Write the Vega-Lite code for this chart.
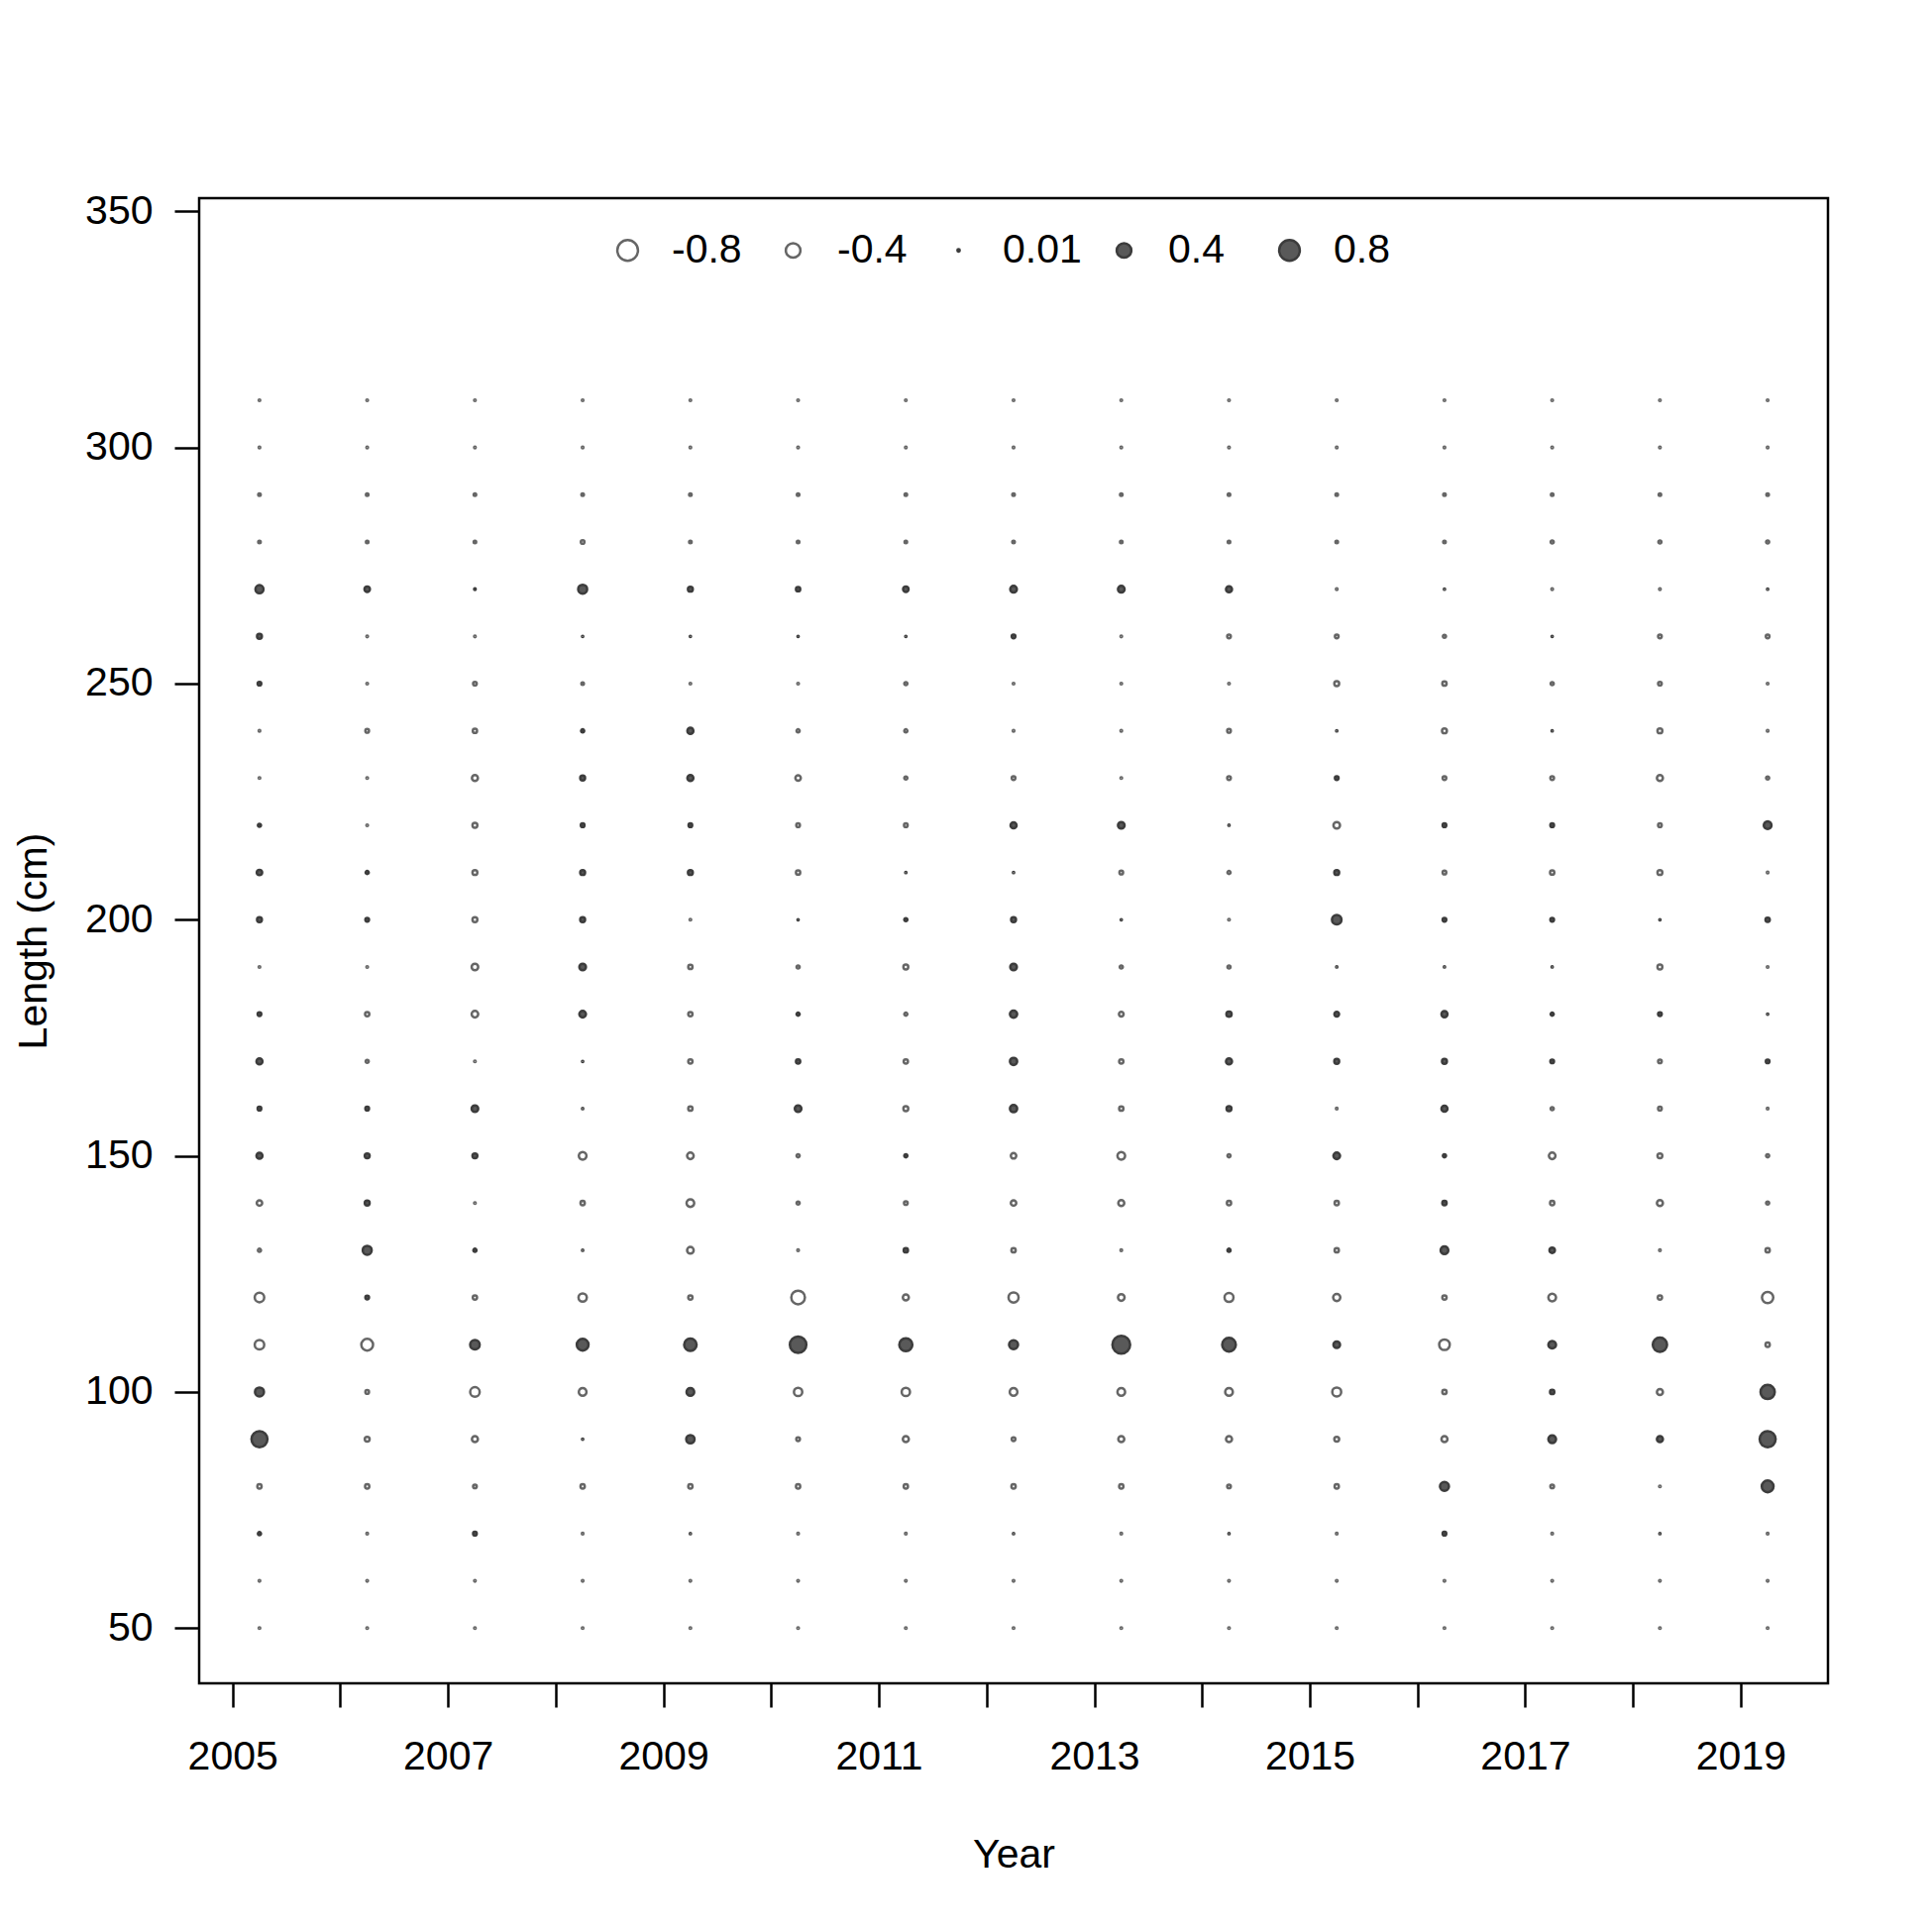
{
  "$schema": "https://vega.github.io/schema/vega-lite/v6.json",
  "width": 1644,
  "height": 1499,
  "autosize": {"type": "none"},
  "padding": {"left": 201, "top": 200, "right": 105, "bottom": 251},
  "background": "white",
  "config": {
    "view": {"stroke": "black", "strokeWidth": 2.5},
    "font": "Liberation Sans",
    "axis": {"labelFont": "Liberation Sans", "titleFont": "Liberation Sans", "labelFontSize": 41, "titleFontSize": 41, "labelColor": "black", "titleColor": "black", "titleFontWeight": "normal", "tickColor": "black", "tickWidth": 2.5, "domain": false, "grid": false, "labelFlush": false, "labelOverlap": false},
    "legend": {"labelFont": "Liberation Sans", "labelFontSize": 41, "labelColor": "black"}
  },
  "data": {"values": [
{"year":2005.25,"length":310,"resid":-0.005},{"year":2005.25,"length":300,"resid":-0.005},{"year":2005.25,"length":290,"resid":-0.012},{"year":2005.25,"length":280,"resid":-0.012},{"year":2005.25,"length":270,"resid":0.12},{"year":2005.25,"length":260,"resid":0.044},{"year":2005.25,"length":250,"resid":0.025},{"year":2005.25,"length":240,"resid":-0.005},{"year":2005.25,"length":230,"resid":-0.005},{"year":2005.25,"length":220,"resid":0.018},{"year":2005.25,"length":210,"resid":0.055},{"year":2005.25,"length":200,"resid":0.044},{"year":2005.25,"length":190,"resid":-0.005},{"year":2005.25,"length":180,"resid":0.025},{"year":2005.25,"length":170,"resid":0.067},{"year":2005.25,"length":160,"resid":0.025},{"year":2005.25,"length":150,"resid":0.067},{"year":2005.25,"length":140,"resid":-0.055},{"year":2005.25,"length":130,"resid":-0.018},{"year":2005.25,"length":120,"resid":-0.17},{"year":2005.25,"length":110,"resid":-0.17},{"year":2005.25,"length":100,"resid":0.15},{"year":2005.25,"length":90,"resid":0.48},{"year":2005.25,"length":80,"resid":-0.034},{"year":2005.25,"length":70,"resid":0.018},{"year":2005.25,"length":60,"resid":-0.005},{"year":2005.25,"length":50,"resid":-0.005},
{"year":2006.25,"length":310,"resid":-0.005},{"year":2006.25,"length":300,"resid":-0.005},{"year":2006.25,"length":290,"resid":-0.012},{"year":2006.25,"length":280,"resid":-0.012},{"year":2006.25,"length":270,"resid":0.055},{"year":2006.25,"length":260,"resid":-0.005},{"year":2006.25,"length":250,"resid":-0.005},{"year":2006.25,"length":240,"resid":-0.025},{"year":2006.25,"length":230,"resid":-0.005},{"year":2006.25,"length":220,"resid":-0.005},{"year":2006.25,"length":210,"resid":0.018},{"year":2006.25,"length":200,"resid":0.025},{"year":2006.25,"length":190,"resid":-0.005},{"year":2006.25,"length":180,"resid":-0.034},{"year":2006.25,"length":170,"resid":-0.018},{"year":2006.25,"length":160,"resid":0.025},{"year":2006.25,"length":150,"resid":0.044},{"year":2006.25,"length":140,"resid":0.044},{"year":2006.25,"length":130,"resid":0.15},{"year":2006.25,"length":120,"resid":0.025},{"year":2006.25,"length":110,"resid":-0.26},{"year":2006.25,"length":100,"resid":-0.025},{"year":2006.25,"length":90,"resid":-0.044},{"year":2006.25,"length":80,"resid":-0.034},{"year":2006.25,"length":70,"resid":-0.005},{"year":2006.25,"length":60,"resid":-0.005},{"year":2006.25,"length":50,"resid":-0.005},
{"year":2007.25,"length":310,"resid":-0.005},{"year":2007.25,"length":300,"resid":-0.005},{"year":2007.25,"length":290,"resid":-0.012},{"year":2007.25,"length":280,"resid":-0.012},{"year":2007.25,"length":270,"resid":0.005},{"year":2007.25,"length":260,"resid":-0.005},{"year":2007.25,"length":250,"resid":-0.025},{"year":2007.25,"length":240,"resid":-0.034},{"year":2007.25,"length":230,"resid":-0.067},{"year":2007.25,"length":220,"resid":-0.044},{"year":2007.25,"length":210,"resid":-0.044},{"year":2007.25,"length":200,"resid":-0.044},{"year":2007.25,"length":190,"resid":-0.081},{"year":2007.25,"length":180,"resid":-0.081},{"year":2007.25,"length":170,"resid":-0.005},{"year":2007.25,"length":160,"resid":0.081},{"year":2007.25,"length":150,"resid":0.044},{"year":2007.25,"length":140,"resid":-0.005},{"year":2007.25,"length":130,"resid":0.018},{"year":2007.25,"length":120,"resid":-0.034},{"year":2007.25,"length":110,"resid":0.17},{"year":2007.25,"length":100,"resid":-0.17},{"year":2007.25,"length":90,"resid":-0.067},{"year":2007.25,"length":80,"resid":-0.025},{"year":2007.25,"length":70,"resid":0.025},{"year":2007.25,"length":60,"resid":-0.005},{"year":2007.25,"length":50,"resid":-0.005},
{"year":2008.25,"length":310,"resid":-0.005},{"year":2008.25,"length":300,"resid":-0.005},{"year":2008.25,"length":290,"resid":-0.012},{"year":2008.25,"length":280,"resid":-0.025},{"year":2008.25,"length":270,"resid":0.15},{"year":2008.25,"length":260,"resid":0.003},{"year":2008.25,"length":250,"resid":-0.012},{"year":2008.25,"length":240,"resid":0.018},{"year":2008.25,"length":230,"resid":0.044},{"year":2008.25,"length":220,"resid":0.025},{"year":2008.25,"length":210,"resid":0.044},{"year":2008.25,"length":200,"resid":0.044},{"year":2008.25,"length":190,"resid":0.081},{"year":2008.25,"length":180,"resid":0.081},{"year":2008.25,"length":170,"resid":0.003},{"year":2008.25,"length":160,"resid":0.003},{"year":2008.25,"length":150,"resid":-0.11},{"year":2008.25,"length":140,"resid":-0.034},{"year":2008.25,"length":130,"resid":0.003},{"year":2008.25,"length":120,"resid":-0.13},{"year":2008.25,"length":110,"resid":0.26},{"year":2008.25,"length":100,"resid":-0.11},{"year":2008.25,"length":90,"resid":0.003},{"year":2008.25,"length":80,"resid":-0.034},{"year":2008.25,"length":70,"resid":-0.005},{"year":2008.25,"length":60,"resid":-0.005},{"year":2008.25,"length":50,"resid":-0.005},
{"year":2009.25,"length":310,"resid":-0.005},{"year":2009.25,"length":300,"resid":-0.005},{"year":2009.25,"length":290,"resid":-0.012},{"year":2009.25,"length":280,"resid":-0.012},{"year":2009.25,"length":270,"resid":0.044},{"year":2009.25,"length":260,"resid":0.003},{"year":2009.25,"length":250,"resid":-0.005},{"year":2009.25,"length":240,"resid":0.067},{"year":2009.25,"length":230,"resid":0.067},{"year":2009.25,"length":220,"resid":0.025},{"year":2009.25,"length":210,"resid":0.044},{"year":2009.25,"length":200,"resid":-0.005},{"year":2009.25,"length":190,"resid":-0.034},{"year":2009.25,"length":180,"resid":-0.034},{"year":2009.25,"length":170,"resid":-0.034},{"year":2009.25,"length":160,"resid":-0.034},{"year":2009.25,"length":150,"resid":-0.081},{"year":2009.25,"length":140,"resid":-0.11},{"year":2009.25,"length":130,"resid":-0.081},{"year":2009.25,"length":120,"resid":-0.034},{"year":2009.25,"length":110,"resid":0.29},{"year":2009.25,"length":100,"resid":0.11},{"year":2009.25,"length":90,"resid":0.13},{"year":2009.25,"length":80,"resid":-0.034},{"year":2009.25,"length":70,"resid":0.003},{"year":2009.25,"length":60,"resid":-0.005},{"year":2009.25,"length":50,"resid":-0.005},
{"year":2010.25,"length":310,"resid":-0.005},{"year":2010.25,"length":300,"resid":-0.005},{"year":2010.25,"length":290,"resid":-0.012},{"year":2010.25,"length":280,"resid":-0.012},{"year":2010.25,"length":270,"resid":0.034},{"year":2010.25,"length":260,"resid":0.003},{"year":2010.25,"length":250,"resid":-0.005},{"year":2010.25,"length":240,"resid":-0.018},{"year":2010.25,"length":230,"resid":-0.055},{"year":2010.25,"length":220,"resid":-0.025},{"year":2010.25,"length":210,"resid":-0.034},{"year":2010.25,"length":200,"resid":0.003},{"year":2010.25,"length":190,"resid":-0.018},{"year":2010.25,"length":180,"resid":0.018},{"year":2010.25,"length":170,"resid":0.034},{"year":2010.25,"length":160,"resid":0.081},{"year":2010.25,"length":150,"resid":-0.018},{"year":2010.25,"length":140,"resid":-0.018},{"year":2010.25,"length":130,"resid":-0.005},{"year":2010.25,"length":120,"resid":-0.35},{"year":2010.25,"length":110,"resid":0.51},{"year":2010.25,"length":100,"resid":-0.13},{"year":2010.25,"length":90,"resid":-0.025},{"year":2010.25,"length":80,"resid":-0.034},{"year":2010.25,"length":70,"resid":-0.005},{"year":2010.25,"length":60,"resid":-0.005},{"year":2010.25,"length":50,"resid":-0.005},
{"year":2011.25,"length":310,"resid":-0.005},{"year":2011.25,"length":300,"resid":-0.005},{"year":2011.25,"length":290,"resid":-0.012},{"year":2011.25,"length":280,"resid":-0.012},{"year":2011.25,"length":270,"resid":0.055},{"year":2011.25,"length":260,"resid":0.003},{"year":2011.25,"length":250,"resid":-0.018},{"year":2011.25,"length":240,"resid":-0.018},{"year":2011.25,"length":230,"resid":-0.018},{"year":2011.25,"length":220,"resid":-0.025},{"year":2011.25,"length":210,"resid":0.003},{"year":2011.25,"length":200,"resid":0.018},{"year":2011.25,"length":190,"resid":-0.044},{"year":2011.25,"length":180,"resid":-0.018},{"year":2011.25,"length":170,"resid":-0.034},{"year":2011.25,"length":160,"resid":-0.044},{"year":2011.25,"length":150,"resid":0.018},{"year":2011.25,"length":140,"resid":-0.025},{"year":2011.25,"length":130,"resid":0.034},{"year":2011.25,"length":120,"resid":-0.067},{"year":2011.25,"length":110,"resid":0.32},{"year":2011.25,"length":100,"resid":-0.13},{"year":2011.25,"length":90,"resid":-0.067},{"year":2011.25,"length":80,"resid":-0.034},{"year":2011.25,"length":70,"resid":-0.005},{"year":2011.25,"length":60,"resid":-0.005},{"year":2011.25,"length":50,"resid":-0.005},
{"year":2012.25,"length":310,"resid":-0.005},{"year":2012.25,"length":300,"resid":-0.005},{"year":2012.25,"length":290,"resid":-0.012},{"year":2012.25,"length":280,"resid":-0.012},{"year":2012.25,"length":270,"resid":0.081},{"year":2012.25,"length":260,"resid":0.025},{"year":2012.25,"length":250,"resid":-0.005},{"year":2012.25,"length":240,"resid":-0.005},{"year":2012.25,"length":230,"resid":-0.025},{"year":2012.25,"length":220,"resid":0.067},{"year":2012.25,"length":210,"resid":0.003},{"year":2012.25,"length":200,"resid":0.044},{"year":2012.25,"length":190,"resid":0.081},{"year":2012.25,"length":180,"resid":0.097},{"year":2012.25,"length":170,"resid":0.097},{"year":2012.25,"length":160,"resid":0.097},{"year":2012.25,"length":150,"resid":-0.055},{"year":2012.25,"length":140,"resid":-0.055},{"year":2012.25,"length":130,"resid":-0.034},{"year":2012.25,"length":120,"resid":-0.19},{"year":2012.25,"length":110,"resid":0.15},{"year":2012.25,"length":100,"resid":-0.11},{"year":2012.25,"length":90,"resid":-0.025},{"year":2012.25,"length":80,"resid":-0.034},{"year":2012.25,"length":70,"resid":0.003},{"year":2012.25,"length":60,"resid":-0.005},{"year":2012.25,"length":50,"resid":-0.005},
{"year":2013.25,"length":310,"resid":-0.005},{"year":2013.25,"length":300,"resid":-0.005},{"year":2013.25,"length":290,"resid":-0.012},{"year":2013.25,"length":280,"resid":-0.012},{"year":2013.25,"length":270,"resid":0.081},{"year":2013.25,"length":260,"resid":-0.005},{"year":2013.25,"length":250,"resid":-0.005},{"year":2013.25,"length":240,"resid":-0.005},{"year":2013.25,"length":230,"resid":-0.005},{"year":2013.25,"length":220,"resid":0.081},{"year":2013.25,"length":210,"resid":-0.025},{"year":2013.25,"length":200,"resid":0.003},{"year":2013.25,"length":190,"resid":-0.018},{"year":2013.25,"length":180,"resid":-0.04},{"year":2013.25,"length":170,"resid":-0.034},{"year":2013.25,"length":160,"resid":-0.034},{"year":2013.25,"length":150,"resid":-0.11},{"year":2013.25,"length":140,"resid":-0.067},{"year":2013.25,"length":130,"resid":-0.005},{"year":2013.25,"length":120,"resid":-0.081},{"year":2013.25,"length":110,"resid":0.59},{"year":2013.25,"length":100,"resid":-0.11},{"year":2013.25,"length":90,"resid":-0.067},{"year":2013.25,"length":80,"resid":-0.034},{"year":2013.25,"length":70,"resid":-0.005},{"year":2013.25,"length":60,"resid":-0.005},{"year":2013.25,"length":50,"resid":-0.005},
{"year":2014.25,"length":310,"resid":-0.005},{"year":2014.25,"length":300,"resid":-0.005},{"year":2014.25,"length":290,"resid":-0.012},{"year":2014.25,"length":280,"resid":-0.012},{"year":2014.25,"length":270,"resid":0.067},{"year":2014.25,"length":260,"resid":-0.025},{"year":2014.25,"length":250,"resid":-0.005},{"year":2014.25,"length":240,"resid":-0.025},{"year":2014.25,"length":230,"resid":-0.025},{"year":2014.25,"length":220,"resid":0.003},{"year":2014.25,"length":210,"resid":-0.018},{"year":2014.25,"length":200,"resid":-0.005},{"year":2014.25,"length":190,"resid":-0.018},{"year":2014.25,"length":180,"resid":0.05},{"year":2014.25,"length":170,"resid":0.067},{"year":2014.25,"length":160,"resid":0.044},{"year":2014.25,"length":150,"resid":-0.018},{"year":2014.25,"length":140,"resid":-0.034},{"year":2014.25,"length":130,"resid":0.018},{"year":2014.25,"length":120,"resid":-0.15},{"year":2014.25,"length":110,"resid":0.35},{"year":2014.25,"length":100,"resid":-0.11},{"year":2014.25,"length":90,"resid":-0.067},{"year":2014.25,"length":80,"resid":-0.025},{"year":2014.25,"length":70,"resid":0.003},{"year":2014.25,"length":60,"resid":-0.005},{"year":2014.25,"length":50,"resid":-0.005},
{"year":2015.25,"length":310,"resid":-0.005},{"year":2015.25,"length":300,"resid":-0.005},{"year":2015.25,"length":290,"resid":-0.012},{"year":2015.25,"length":280,"resid":-0.012},{"year":2015.25,"length":270,"resid":-0.005},{"year":2015.25,"length":260,"resid":-0.025},{"year":2015.25,"length":250,"resid":-0.044},{"year":2015.25,"length":240,"resid":0.003},{"year":2015.25,"length":230,"resid":0.025},{"year":2015.25,"length":220,"resid":-0.081},{"year":2015.25,"length":210,"resid":0.044},{"year":2015.25,"length":200,"resid":0.17},{"year":2015.25,"length":190,"resid":0.003},{"year":2015.25,"length":180,"resid":0.04},{"year":2015.25,"length":170,"resid":0.044},{"year":2015.25,"length":160,"resid":-0.005},{"year":2015.25,"length":150,"resid":0.081},{"year":2015.25,"length":140,"resid":-0.034},{"year":2015.25,"length":130,"resid":-0.034},{"year":2015.25,"length":120,"resid":-0.097},{"year":2015.25,"length":110,"resid":0.081},{"year":2015.25,"length":100,"resid":-0.15},{"year":2015.25,"length":90,"resid":-0.044},{"year":2015.25,"length":80,"resid":-0.034},{"year":2015.25,"length":70,"resid":-0.005},{"year":2015.25,"length":60,"resid":-0.005},{"year":2015.25,"length":50,"resid":-0.005},
{"year":2016.25,"length":310,"resid":-0.005},{"year":2016.25,"length":300,"resid":-0.005},{"year":2016.25,"length":290,"resid":-0.012},{"year":2016.25,"length":280,"resid":-0.012},{"year":2016.25,"length":270,"resid":0.003},{"year":2016.25,"length":260,"resid":-0.018},{"year":2016.25,"length":250,"resid":-0.034},{"year":2016.25,"length":240,"resid":-0.044},{"year":2016.25,"length":230,"resid":-0.025},{"year":2016.25,"length":220,"resid":0.025},{"year":2016.25,"length":210,"resid":-0.025},{"year":2016.25,"length":200,"resid":0.025},{"year":2016.25,"length":190,"resid":0.003},{"year":2016.25,"length":180,"resid":0.067},{"year":2016.25,"length":170,"resid":0.044},{"year":2016.25,"length":160,"resid":0.067},{"year":2016.25,"length":150,"resid":0.018},{"year":2016.25,"length":140,"resid":0.034},{"year":2016.25,"length":130,"resid":0.11},{"year":2016.25,"length":120,"resid":-0.034},{"year":2016.25,"length":110,"resid":-0.21},{"year":2016.25,"length":100,"resid":-0.034},{"year":2016.25,"length":90,"resid":-0.067},{"year":2016.25,"length":80,"resid":0.15},{"year":2016.25,"length":70,"resid":0.025},{"year":2016.25,"length":60,"resid":-0.005},{"year":2016.25,"length":50,"resid":-0.005},
{"year":2017.25,"length":310,"resid":-0.005},{"year":2017.25,"length":300,"resid":-0.005},{"year":2017.25,"length":290,"resid":-0.012},{"year":2017.25,"length":280,"resid":-0.018},{"year":2017.25,"length":270,"resid":-0.005},{"year":2017.25,"length":260,"resid":0.003},{"year":2017.25,"length":250,"resid":-0.018},{"year":2017.25,"length":240,"resid":0.003},{"year":2017.25,"length":230,"resid":-0.025},{"year":2017.25,"length":220,"resid":0.025},{"year":2017.25,"length":210,"resid":-0.034},{"year":2017.25,"length":200,"resid":0.025},{"year":2017.25,"length":190,"resid":0.003},{"year":2017.25,"length":180,"resid":0.018},{"year":2017.25,"length":170,"resid":0.025},{"year":2017.25,"length":160,"resid":-0.018},{"year":2017.25,"length":150,"resid":-0.081},{"year":2017.25,"length":140,"resid":-0.034},{"year":2017.25,"length":130,"resid":0.055},{"year":2017.25,"length":120,"resid":-0.11},{"year":2017.25,"length":110,"resid":0.11},{"year":2017.25,"length":100,"resid":0.034},{"year":2017.25,"length":90,"resid":0.11},{"year":2017.25,"length":80,"resid":-0.025},{"year":2017.25,"length":70,"resid":-0.005},{"year":2017.25,"length":60,"resid":-0.005},{"year":2017.25,"length":50,"resid":-0.005},
{"year":2018.25,"length":310,"resid":-0.005},{"year":2018.25,"length":300,"resid":-0.005},{"year":2018.25,"length":290,"resid":-0.012},{"year":2018.25,"length":280,"resid":-0.018},{"year":2018.25,"length":270,"resid":-0.005},{"year":2018.25,"length":260,"resid":-0.025},{"year":2018.25,"length":250,"resid":-0.025},{"year":2018.25,"length":240,"resid":-0.044},{"year":2018.25,"length":230,"resid":-0.067},{"year":2018.25,"length":220,"resid":-0.025},{"year":2018.25,"length":210,"resid":-0.044},{"year":2018.25,"length":200,"resid":0.003},{"year":2018.25,"length":190,"resid":-0.044},{"year":2018.25,"length":180,"resid":0.025},{"year":2018.25,"length":170,"resid":-0.025},{"year":2018.25,"length":160,"resid":-0.025},{"year":2018.25,"length":150,"resid":-0.044},{"year":2018.25,"length":140,"resid":-0.067},{"year":2018.25,"length":130,"resid":-0.005},{"year":2018.25,"length":120,"resid":-0.034},{"year":2018.25,"length":110,"resid":0.38},{"year":2018.25,"length":100,"resid":-0.067},{"year":2018.25,"length":90,"resid":0.067},{"year":2018.25,"length":80,"resid":-0.005},{"year":2018.25,"length":70,"resid":0.003},{"year":2018.25,"length":60,"resid":-0.005},{"year":2018.25,"length":50,"resid":-0.005},
{"year":2019.25,"length":310,"resid":-0.005},{"year":2019.25,"length":300,"resid":-0.005},{"year":2019.25,"length":290,"resid":-0.012},{"year":2019.25,"length":280,"resid":-0.018},{"year":2019.25,"length":270,"resid":0.003},{"year":2019.25,"length":260,"resid":-0.025},{"year":2019.25,"length":250,"resid":-0.005},{"year":2019.25,"length":240,"resid":-0.005},{"year":2019.25,"length":230,"resid":-0.018},{"year":2019.25,"length":220,"resid":0.11},{"year":2019.25,"length":210,"resid":-0.005},{"year":2019.25,"length":200,"resid":0.034},{"year":2019.25,"length":190,"resid":-0.005},{"year":2019.25,"length":180,"resid":0.003},{"year":2019.25,"length":170,"resid":0.025},{"year":2019.25,"length":160,"resid":-0.005},{"year":2019.25,"length":150,"resid":-0.018},{"year":2019.25,"length":140,"resid":-0.018},{"year":2019.25,"length":130,"resid":-0.034},{"year":2019.25,"length":120,"resid":-0.24},{"year":2019.25,"length":110,"resid":-0.034},{"year":2019.25,"length":100,"resid":0.38},{"year":2019.25,"length":90,"resid":0.48},{"year":2019.25,"length":80,"resid":0.26},{"year":2019.25,"length":70,"resid":-0.005},{"year":2019.25,"length":60,"resid":-0.005},{"year":2019.25,"length":50,"resid":-0.005}
  ]},
  "mark": {"type": "point", "shape": "circle", "filled": true, "opacity": 1, "strokeWidth": 2.5},
  "encoding": {
    "x": {"field": "year", "type": "quantitative",
      "scale": {"domain": [2004.69, 2019.81], "nice": false, "zero": false},
      "axis": {"values": [2005,2006,2007,2008,2009,2010,2011,2012,2013,2014,2015,2016,2017,2018,2019], "format": "d",
        "labelExpr": "datum.value % 2 == 1 ? datum.label : ''",
        "title": "Year", "tickSize": 24, "labelPadding": 30, "titleY": 185, "titleBaseline": "alphabetic"}},
    "y": {"field": "length", "type": "quantitative",
      "scale": {"domain": [38.3, 352.8], "nice": false, "zero": false},
      "axis": {"values": [50,100,150,200,250,300,350], "title": "Length (cm)", "tickSize": 25, "labelPadding": 22,
        "titleAngle": -90, "titleX": -155, "titleY": 749.5, "titleBaseline": "alphabetic", "titleAlign": "center"}},
    "size": {"field": "resid", "type": "quantitative",
      "scale": {"domain": [-0.8, 0, 0.8], "range": [434, 0, 434]},
      "legend": {"values": [-0.8, -0.4, 0.01, 0.4, 0.8], "title": null, "orient": "none", "direction": "horizontal",
        "legendX": 412, "legendY": 32, "padding": 0, "gridAlign": "all", "columnPadding": 22, "labelOffset": 24,
        "symbolType": "circle", "symbolStrokeWidth": 2.5, "symbolOpacity": 1, "labelExpr": "toString(datum.value)"}},
    "fill": {"field": "resid", "type": "quantitative",
      "scale": {"type": "threshold", "domain": [-0.8, 0, 0.8], "range": ["white", "white", "#595959", "#595959"]},
      "legend": {"values": [-0.8, -0.4, 0.01, 0.4, 0.8], "title": null, "orient": "none", "direction": "horizontal",
        "legendX": 412, "legendY": 32, "padding": 0, "gridAlign": "all", "columnPadding": 22, "labelOffset": 24,
        "symbolType": "circle", "symbolStrokeWidth": 2.5, "symbolOpacity": 1, "labelExpr": "toString(datum.value)"}},
    "stroke": {"field": "resid", "type": "quantitative",
      "scale": {"type": "threshold", "domain": [-0.8, 0, 0.8], "range": ["#666666", "#666666", "#3c3c3c", "#3c3c3c"]},
      "legend": {"values": [-0.8, -0.4, 0.01, 0.4, 0.8], "title": null, "orient": "none", "direction": "horizontal",
        "legendX": 412, "legendY": 32, "padding": 0, "gridAlign": "all", "columnPadding": 22, "labelOffset": 24,
        "symbolType": "circle", "symbolStrokeWidth": 2.5, "symbolOpacity": 1, "labelExpr": "toString(datum.value)"}}
  }
}
